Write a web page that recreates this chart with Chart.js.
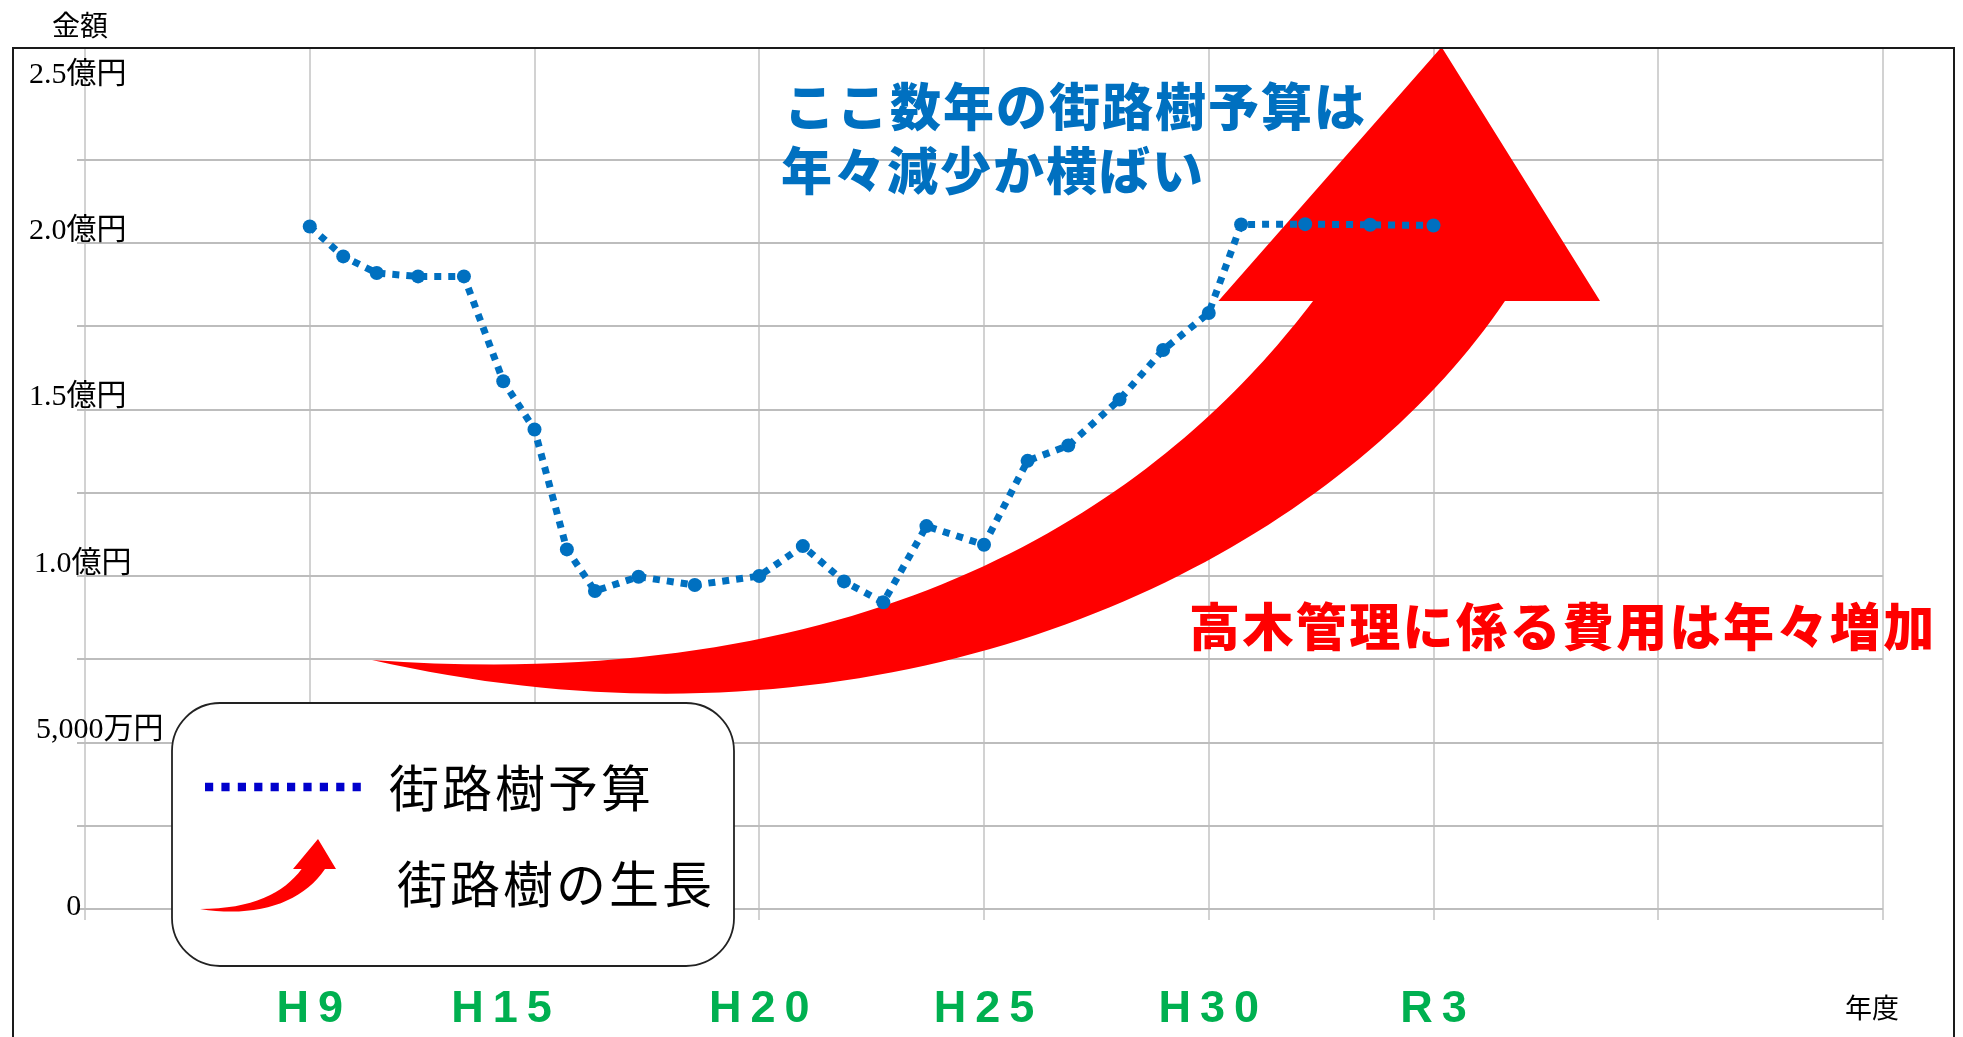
<!DOCTYPE html>
<html lang="ja">
<head>
<meta charset="utf-8">
<title>街路樹予算の推移</title>
<script src="https://cdn.jsdelivr.net/npm/chart.js@4/dist/chart.umd.min.js"></script>
<style>
  html, body { margin: 0; padding: 0; background: #fff; }
  #wrap { position: relative; width: 1963px; height: 1037px; }
</style>
</head>
<body>
<div id="wrap"><canvas id="chart"></canvas></div>
<script>
// x ticks = one per vertical grid line
const xTickLabels = ['', 'H\u20099', 'H\u20091\u20095', 'H\u20092\u20090', 'H\u20092\u20095', 'H\u20093\u20090', 'R\u20093', '', ''];
// y ticks every 0.25 (億円)
const yTickLabels = ['0', '', '5,000万円', '', '1.0億円', '', '1.5億円', '', '2.0億円', '', '2.5億円'];

// 街路樹予算: position along the year axis (grid units, H9=1 ... R3=6) and amount in 億円
const budgetPos = [1, 1.149, 1.298, 1.482, 1.686, 1.861, 2, 2.144, 2.269, 2.463, 2.713, 3, 3.194,
  3.377, 3.552, 3.744, 4, 4.194, 4.375, 4.603, 4.797, 5, 5.144, 5.429, 5.718, 6];
const budgetValues = [2.05, 1.96, 1.91, 1.9, 1.9, 1.585, 1.44, 1.08, 0.955, 0.998, 0.973, 1.0, 1.09,
  0.984, 0.921, 1.15, 1.094, 1.346, 1.392, 1.53, 1.679, 1.79, 2.056, 2.057, 2.055, 2.053];

const budgetLabel = '街路樹予算';
const growthLabel = '街路樹の生長';
const noteBudget = ['ここ数年の街路樹予算は', '年々減少か横ばい'];
const noteCost = '高木管理に係る費用は年々増加';

// big red "growth" arrow, in axis units (x: grid units, y: 億円)
// edges are cubic bezier (start, ctrl, ctrl, end), head is a triangle
const growthArrow = {
  upper: [[1.277, 0.748], [3.724, 0.628], [4.903, 1.327], [5.464, 1.826]],
  lower: [[1.277, 0.748], [3.626, 0.387], [5.539, 1.048], [6.318, 1.826]],
  head: [[5.043, 1.826], [6.036, 2.589], [6.741, 1.826]]
};

// small per-label shifts [dx, dy] in px where the original labels sit off their tick
const labelNudge = {
  x: { 2: [-33, 0] },
  y: { 0: [-4, 10], 2: [22, 0], 4: [5, 0], 10: [0, 10] }
};

const JP = "'Noto Sans CJK JP', 'Noto Sans', sans-serif";

function roundBox(c, x, y, w, h, r) {
  c.beginPath();
  c.moveTo(x + r, y);
  c.arcTo(x + w, y, x + w, y + h, r);
  c.arcTo(x + w, y + h, x, y + h, r);
  c.arcTo(x, y + h, x, y, r);
  c.arcTo(x, y, x + w, y, r);
  c.closePath();
}

function text(c, str, x, y, font, color, spacing) {
  c.save();
  c.font = font;
  c.fillStyle = color;
  c.textAlign = 'left';
  c.textBaseline = 'middle';
  c.letterSpacing = (spacing || 0) + 'px';
  c.fillText(str, x, y);
  c.restore();
}

// curved arrow: upper bezier, triangle head, lower bezier back to the tail
function arrowPath(c, up, lo, hd) {
  c.beginPath();
  c.moveTo(up[0].x, up[0].y);
  c.bezierCurveTo(up[1].x, up[1].y, up[2].x, up[2].y, up[3].x, up[3].y);
  hd.forEach(p => c.lineTo(p.x, p.y));
  c.lineTo(lo[3].x, lo[3].y);
  c.bezierCurveTo(lo[2].x, lo[2].y, lo[1].x, lo[1].y, lo[0].x, lo[0].y);
  c.closePath();
}

const decorations = {
  id: 'decorations',
  beforeDraw(chart) {
    ['x', 'y'].forEach(id => {
      const items = chart.scales[id].getLabelItems();
      if (items._nudged) return;
      items._nudged = true;
      Object.entries(labelNudge[id]).forEach(([i, d]) => {
        if (!items[i]) return;
        items[i].options.translation[0] += d[0];
        items[i].options.translation[1] += d[1];
      });
    });
  },
  beforeDatasetsDraw(chart) {
    const c = chart.ctx, xs = chart.scales.x, ys = chart.scales.y;
    const px = p => ({ x: xs.getPixelForValue(p[0]), y: ys.getPixelForValue(p[1]) });
    c.save();
    arrowPath(c, growthArrow.upper.map(px), growthArrow.lower.map(px), growthArrow.head.map(px));
    c.fillStyle = '#FF0000';
    c.fill();
    c.restore();
  },
  afterDraw(chart) {
    const c = chart.ctx;

    // outer frame
    c.save();
    c.lineWidth = 2;
    c.strokeStyle = '#1a1a1a';
    c.strokeRect(13, 48, 1941, 1100);
    c.restore();

    text(c, '金額', 52, 25, '28px ' + JP, '#000');
    text(c, '年度', 1845, 1008, '27px ' + JP, '#000');

    text(c, noteBudget[0], 784, 107, '900 51px ' + JP, '#0070C0', 2);
    text(c, noteBudget[1], 781, 171, '900 51px ' + JP, '#0070C0', 2);
    text(c, noteCost, 1189, 627, '900 51px ' + JP, '#FF0000', 2.4);

    // legend box
    const bx = 172, by = 703;
    c.save();
    roundBox(c, bx, by, 562, 263, 48);
    c.fillStyle = '#fff';
    c.fill();
    c.lineWidth = 1.8;
    c.strokeStyle = '#222';
    c.stroke();

    c.beginPath();
    c.setLineDash([8.2, 8.2]);
    c.lineWidth = 8.5;
    c.strokeStyle = '#0000CC';
    c.moveTo(bx + 33, by + 84);
    c.lineTo(bx + 197, by + 84);
    c.stroke();
    c.setLineDash([]);

    // small growth arrow sample
    const o = p => ({ x: bx + p[0], y: by + p[1] });
    arrowPath(c,
      [[28, 206], [80, 206], [112, 190], [129.6, 166]].map(o),
      [[28, 206], [85, 215], [130, 200], [153, 166]].map(o),
      [[121, 166], [146, 136], [164, 166]].map(o));
    c.fillStyle = '#FF0000';
    c.fill();
    c.restore();

    text(c, chart.data.datasets[0].label, bx + 217, by + 85, '50px ' + JP, '#000', 3);
    text(c, growthLabel, bx + 225, by + 181, '50px ' + JP, '#000', 3);
  }
};

new Chart(document.getElementById('chart'), {
  type: 'line',
  data: {
    datasets: [{
      label: budgetLabel,
      data: budgetPos.map((x, i) => ({ x, y: budgetValues[i] })),
      borderColor: '#0070C0',
      borderWidth: 7,
      borderDash: [7, 7],
      pointRadius: 7,
      pointBackgroundColor: '#0070C0',
      pointBorderWidth: 0,
      tension: 0
    }]
  },
  options: {
    responsive: true,
    maintainAspectRatio: false,
    animation: false,
    devicePixelRatio: 1,
    layout: { padding: { left: 30, top: 48, right: 80, bottom: 0 } },
    plugins: { legend: { display: false }, tooltip: { enabled: false } },
    scales: {
      x: {
        type: 'linear',
        min: 0,
        max: 8,
        afterFit: s => { s.height = 128; },
        ticks: {
          stepSize: 1,
          autoSkip: false,
          maxRotation: 0,
          padding: 63,
          color: '#00B050',
          font: { family: "'Liberation Sans', Arial, sans-serif", size: 45, weight: 'bold' },
          callback: (v, i) => xTickLabels[i] ?? ''
        },
        grid: { color: '#d2d2d2', lineWidth: 2, tickLength: 11 },
        border: { display: false }
      },
      y: {
        min: 0,
        max: 2.586,
        afterFit: s => { s.width = 55; },
        ticks: {
          stepSize: 0.25,
          includeBounds: false,
          mirror: true,
          crossAlign: 'center',
          padding: -71,
          labelOffset: -12,
          color: '#000',
          font: { family: "'Liberation Serif', 'Noto Sans CJK JP', serif", size: 30 },
          callback: (v, i) => yTickLabels[i] ?? ''
        },
        grid: {
          color: c => (c.tick && Math.abs(c.tick.value - 2.5) < 1e-6) ? 'rgba(0,0,0,0)' : '#bdbdbd',
          lineWidth: 2,
          tickLength: 8
        },
        border: { display: false }
      }
    }
  },
  plugins: [decorations]
});
</script>
</body>
</html>
